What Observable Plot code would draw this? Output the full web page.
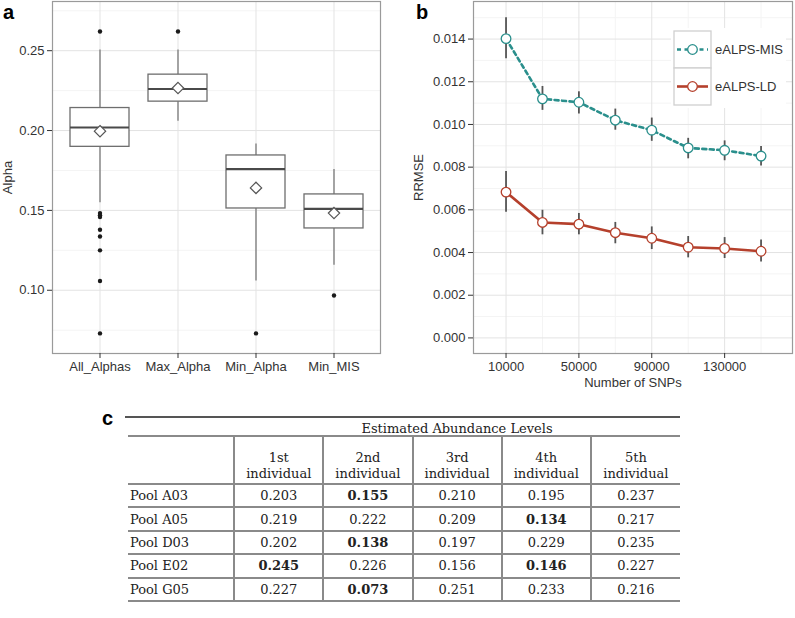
<!DOCTYPE html>
<html><head><meta charset="utf-8">
<script src="https://cdn.jsdelivr.net/npm/d3@7"></script>
<script src="https://cdn.jsdelivr.net/npm/@observablehq/plot@0.6"></script>
<style>
html,body{margin:0;padding:0;background:#fff;}
body{width:795px;height:618px;position:relative;overflow:hidden;font-family:"Liberation Sans",Arial,sans-serif;}
.panel{position:absolute;top:0;}
.plab{position:absolute;font-weight:bold;font-size:20px;line-height:20px;font-family:"Liberation Sans",Arial,sans-serif;color:#000;}
#rule{position:absolute;left:125px;top:416px;width:555px;height:2px;background:#555;}
#ttl{position:absolute;left:234px;top:422px;width:446px;text-align:center;font:13px "DejaVu Serif",serif;color:#222;line-height:14px;}
table{position:absolute;left:128px;top:435px;width:552px;border-collapse:collapse;table-layout:fixed;font:13px "DejaVu Serif",serif;color:#222;}
td{padding:0;text-align:center;border-top:2px solid #8a8a8a;border-bottom:2px solid #8a8a8a;}
td+td{border-left:2px solid #8a8a8a;}
tr.hd td{height:45px;vertical-align:bottom;line-height:16px;padding-bottom:1px;}
tr.dr td{height:21.4px;line-height:21px;}
td.rn{text-align:left;padding-left:2px;}
</style></head><body>
<div id="a" class="panel" style="left:0"></div>
<div id="b" class="panel" style="left:390px"></div>
<div class="plab" style="left:3px;top:2px">a</div>
<div class="plab" style="left:416px;top:2px">b</div>
<div class="plab" style="left:102px;top:408px">c</div>
<div id="rule"></div>
<div id="ttl">Estimated Abundance Levels</div>
<table id="tbl"></table>
<script>
// ---------- Panel a: box plots ----------
const boxCategories = ["All_Alphas", "Max_Alpha", "Min_Alpha", "Min_MIS"];
const boxLowerWhisker = [0.1548, 0.2058, 0.1058, 0.1156];
const boxQ1 = [0.1898, 0.2181, 0.1512, 0.1387];
const boxMedian = [0.2019, 0.2260, 0.1758, 0.1510];
const boxQ3 = [0.2141, 0.2350, 0.1844, 0.1600];
const boxUpperWhisker = [0.2504, 0.2504, 0.1916, 0.1756];
const boxMean = [0.1996, 0.2266, 0.1641, 0.1483];
const outlierCategory = ["All_Alphas","All_Alphas","All_Alphas","All_Alphas","All_Alphas","All_Alphas","All_Alphas","All_Alphas","All_Alphas","Max_Alpha","Min_Alpha","Min_MIS"];
const outlierValue = [0.262, 0.1483, 0.1470, 0.1458, 0.1379, 0.1337, 0.125, 0.1058, 0.073, 0.262, 0.073, 0.0967];
const alphaTicks = [0.10, 0.15, 0.20, 0.25];
const alphaMinorTicks = [0.075, 0.125, 0.175, 0.225, 0.275];

// ---------- Panel b: RRMSE lines ----------
const snps = [10000, 30000, 50000, 70000, 90000, 110000, 130000, 150000];
const misMean = [0.01402, 0.01120, 0.01104, 0.01020, 0.00973, 0.00890, 0.00879, 0.00852];
const misLow  = [0.01308, 0.01066, 0.01049, 0.00973, 0.00921, 0.00839, 0.00830, 0.00805];
const misHigh = [0.01500, 0.01178, 0.01153, 0.01072, 0.01030, 0.00935, 0.00923, 0.00897];
const ldMean = [0.00683, 0.00541, 0.00533, 0.00493, 0.00467, 0.00425, 0.00419, 0.00406];
const ldLow  = [0.00589, 0.00483, 0.00483, 0.00441, 0.00414, 0.00375, 0.00372, 0.00356];
const ldHigh = [0.00780, 0.00598, 0.00583, 0.00541, 0.00520, 0.00475, 0.00470, 0.00459];
const seriesNames = ["eALPS-MIS", "eALPS-LD"];
const seriesColors = ["#2a8f8c", "#b5402c"];
const rrmseTicks = [0, 0.002, 0.004, 0.006, 0.008, 0.010, 0.012, 0.014];
const rrmseMinorTicks = [0.001, 0.003, 0.005, 0.007, 0.009, 0.011, 0.013, 0.015];
const snpTicks = [10000, 50000, 90000, 130000];
const snpMinorTicks = [30000, 70000, 110000, 150000];

// ---------- Panel c: table ----------
const tableRows = ["Pool A03", "Pool A05", "Pool D03", "Pool E02", "Pool G05"];
const tableCols = ["1st", "2nd", "3rd", "4th", "5th"];
const tableValues = [
  [0.203, 0.155, 0.210, 0.195, 0.237],
  [0.219, 0.222, 0.209, 0.134, 0.217],
  [0.202, 0.138, 0.197, 0.229, 0.235],
  [0.245, 0.226, 0.156, 0.146, 0.227],
  [0.227, 0.073, 0.251, 0.233, 0.216]
];
const tableBold = [
  [0, 1, 0, 0, 0],
  [0, 0, 0, 1, 0],
  [0, 1, 0, 0, 0],
  [1, 0, 0, 1, 0],
  [0, 1, 0, 0, 0]
];

const fontStyle = {fontFamily: "'Liberation Sans', Arial, sans-serif", fontSize: "13px", color: "#333", background: "transparent"};
const majorGrid = "#e3e3e3", minorGrid = "#f4f4f4";

const boxData = boxCategories.map((c, i) => ({cat: c, lo: boxLowerWhisker[i], q1: boxQ1[i], med: boxMedian[i], q3: boxQ3[i], hi: boxUpperWhisker[i], mean: boxMean[i]}));
const outliers = outlierCategory.map((c, i) => ({cat: c, v: outlierValue[i]}));

const plotA = Plot.plot({
  width: 390, height: 392, marginLeft: 52, marginRight: 10, marginTop: 1, marginBottom: 39,
  style: fontStyle,
  x: {type: "band", domain: boxCategories, paddingInner: 0.25, paddingOuter: 0.225, align: 0.5},
  y: {domain: [0.0604, 0.2808]},
  marks: [
    Plot.ruleY(alphaMinorTicks, {stroke: minorGrid}),
    Plot.ruleY(alphaTicks, {stroke: majorGrid}),
    Plot.ruleX(boxCategories, {x: d => d, stroke: majorGrid}),
    Plot.ruleX(boxData, {x: "cat", y1: "lo", y2: "q1", stroke: "#7a7a7a", strokeWidth: 1.3}),
    Plot.ruleX(boxData, {x: "cat", y1: "q3", y2: "hi", stroke: "#7a7a7a", strokeWidth: 1.3}),
    Plot.barY(boxData, {x: "cat", y1: "q1", y2: "q3", fill: "white", stroke: "#6e6e6e", strokeWidth: 1.3}),
    Plot.tickY(boxData, {x: "cat", y: "med", stroke: "#4a4a4a", strokeWidth: 2.2}),
    Plot.dot(outliers, {x: "cat", y: "v", r: 2.2, fill: "#1a1a1a", stroke: null}),
    Plot.dot(boxData, {x: "cat", y: "mean", symbol: "diamond2", r: 5.1, fill: "white", stroke: "#555", strokeWidth: 1.2}),
    Plot.frame({stroke: "#9a9a9a", strokeWidth: 1.2}),
    Plot.axisY({ticks: alphaTicks, tickFormat: d3.format(".2f"), tickSize: 5, tickPadding: 3, label: "Alpha", labelAnchor: "center", labelOffset: 50, labelArrow: "none", fontSize: 13}),
    Plot.axisX({tickSize: 5, tickPadding: 3, label: null, fontSize: 13})
  ]
});
document.getElementById("a").appendChild(plotA);

const mk = (m, lo, hi) => snps.map((s, i) => ({snp: s, m: m[i], lo: lo[i], hi: hi[i]}));
const misData = mk(misMean, misLow, misHigh);
const ldData = mk(ldMean, ldLow, ldHigh);

const plotB = Plot.plot({
  width: 405, height: 392, marginLeft: 83, marginRight: 3, marginTop: 1, marginBottom: 39,
  style: fontStyle,
  x: {domain: [-7860, 167260]},
  y: {domain: [-0.00073, 0.01576]},
  marks: [
    Plot.ruleY(rrmseMinorTicks, {stroke: minorGrid}),
    Plot.ruleX(snpMinorTicks, {stroke: minorGrid}),
    Plot.ruleY(rrmseTicks, {stroke: majorGrid}),
    Plot.ruleX(snpTicks, {stroke: majorGrid}),
    Plot.line(misData, {x: "snp", y: "m", stroke: seriesColors[0], strokeWidth: 2.6, strokeDasharray: "4,3.5"}),
    Plot.line(ldData, {x: "snp", y: "m", stroke: seriesColors[1], strokeWidth: 2.6}),
    Plot.ruleX(misData, {x: "snp", y1: "lo", y2: "hi", stroke: "#555", strokeWidth: 1.8}),
    Plot.ruleX(ldData, {x: "snp", y1: "lo", y2: "hi", stroke: "#555", strokeWidth: 1.8}),
    Plot.dot(misData, {x: "snp", y: "m", r: 4.8, fill: "white", stroke: seriesColors[0], strokeWidth: 1.3}),
    Plot.dot(ldData, {x: "snp", y: "m", r: 4.8, fill: "white", stroke: seriesColors[1], strokeWidth: 1.3}),
    Plot.frame({stroke: "#9a9a9a", strokeWidth: 1.2}),
    Plot.axisY({ticks: rrmseTicks, tickFormat: d3.format(".3f"), tickSize: 5, tickPadding: 3, label: "RRMSE", labelAnchor: "center", labelOffset: 60, labelArrow: "none", fontSize: 13}),
    Plot.axisX({ticks: snpTicks, tickFormat: d3.format("d"), tickSize: 5, tickPadding: 3, label: "Number of SNPs", labelAnchor: "center", labelOffset: 33, labelArrow: "none", fontSize: 13})
  ]
});
document.getElementById("b").appendChild(plotB);

// legend overlay for panel b
(function () {
  const svg = d3.select("#b").append("svg")
    .attr("width", 405).attr("height", 392)
    .style("position", "absolute").style("left", "0px").style("top", "0px")
    .style("font-family", "'Liberation Sans', Arial, sans-serif").style("font-size", "13px");
  const x0 = 284, y0 = 31, key = 37;
  svg.append("rect").attr("x", x0 - 3).attr("y", y0 - 3).attr("width", 115).attr("height", key * 2 + 6).attr("fill", "white");
  seriesNames.forEach((name, i) => {
    const y = y0 + i * key;
    svg.append("rect").attr("x", x0).attr("y", y).attr("width", key).attr("height", key)
      .attr("fill", "white").attr("stroke", "#d0d0d0").attr("stroke-width", 1.3);
    svg.append("line").attr("x1", x0 + 3).attr("x2", x0 + key - 3).attr("y1", y + key / 2).attr("y2", y + key / 2)
      .attr("stroke", seriesColors[i]).attr("stroke-width", 2.6).attr("stroke-dasharray", i === 0 ? "4,3.5" : null);
    svg.append("circle").attr("cx", x0 + key / 2).attr("cy", y + key / 2).attr("r", 4.8)
      .attr("fill", "white").attr("stroke", seriesColors[i]).attr("stroke-width", 1.3);
    svg.append("text").attr("x", x0 + key + 4).attr("y", y + key / 2).attr("dy", "0.35em").attr("fill", "#333").text(name);
  });
})();

// table
(function () {
  const t = d3.select("#tbl");
  const cg = t.append("colgroup");
  cg.append("col").style("width", "106px");
  tableCols.forEach(() => cg.append("col").style("width", "89px"));
  const hr = t.append("tr").attr("class", "hd");
  hr.append("td");
  tableCols.forEach(c => hr.append("td").html(c + "<br>individual"));
  tableRows.forEach((r, i) => {
    const tr = t.append("tr").attr("class", "dr");
    tr.append("td").attr("class", "rn").text(r);
    tableValues[i].forEach((v, j) => tr.append("td").style("font-weight", tableBold[i][j] ? "bold" : "normal").text(d3.format(".3f")(v)));
  });
})();
</script>
</body></html>
